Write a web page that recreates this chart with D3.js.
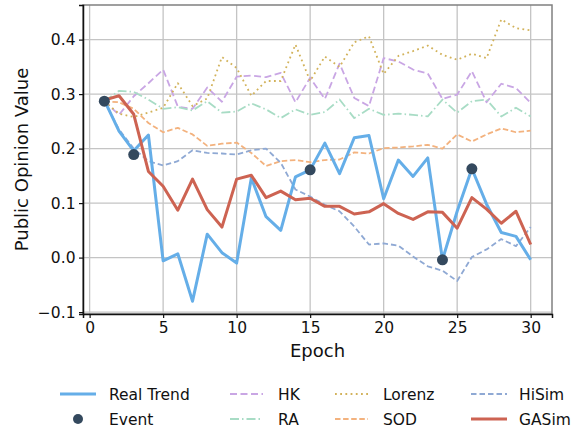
<!DOCTYPE html>
<html>
<head>
<meta charset="utf-8">
<script src="https://cdn.jsdelivr.net/npm/d3@7"></script>
<style>
  body { margin: 0; background: #fff; }
  text { font-family: "DejaVu Sans", sans-serif; }
</style>
</head>
<body>
<svg id="chart" width="585" height="430"></svg>
<script>

const epochs = [1,2,3,4,5,6,7,8,9,10,11,12,13,14,15,16,17,18,19,20,21,22,23,24,25,26,27,28,29,30]

const realTrend = [0.289, 0.232, 0.196, 0.225, -0.006, 0.007, -0.080, 0.043, 0.009, -0.010,
                   0.146, 0.075, 0.050, 0.148, 0.161, 0.210, 0.154, 0.220, 0.224, 0.108,
                   0.179, 0.149, 0.183, -0.004, 0.085, 0.163, 0.098, 0.046, 0.039, -0.004]

const eventEpochs = [1, 3, 15, 24, 26]
const eventValues = [0.287, 0.189, 0.161, -0.004, 0.163]

const hk = [0.287, 0.262, 0.296, 0.320, 0.345, 0.277, 0.273, 0.312, 0.286, 0.332,
            0.334, 0.331, 0.339, 0.285, 0.330, 0.291, 0.356, 0.293, 0.278, 0.366,
            0.360, 0.345, 0.338, 0.291, 0.299, 0.342, 0.285, 0.319, 0.311, 0.284]

const ra = [0.287, 0.306, 0.304, 0.290, 0.273, 0.276, 0.270, 0.287, 0.266, 0.268,
            0.283, 0.272, 0.256, 0.272, 0.262, 0.267, 0.290, 0.256, 0.273, 0.262,
            0.264, 0.262, 0.259, 0.290, 0.266, 0.287, 0.290, 0.259, 0.275, 0.259]

const lorenz = [0.287, 0.264, 0.258, 0.266, 0.275, 0.320, 0.278, 0.292, 0.368, 0.348,
                0.297, 0.324, 0.324, 0.391, 0.324, 0.369, 0.350, 0.395, 0.406, 0.337,
                0.370, 0.379, 0.389, 0.372, 0.363, 0.374, 0.366, 0.437, 0.421, 0.417]

const sod = [0.287, 0.285, 0.273, 0.247, 0.230, 0.238, 0.226, 0.205, 0.209, 0.211,
             0.192, 0.168, 0.177, 0.179, 0.175, 0.179, 0.180, 0.193, 0.191, 0.201,
             0.202, 0.204, 0.207, 0.200, 0.226, 0.213, 0.226, 0.237, 0.230, 0.233]

const hisim = [0.287, 0.235, 0.200, 0.177, 0.169, 0.177, 0.197, 0.192, 0.191, 0.189,
               0.197, 0.200, 0.174, 0.125, 0.112, 0.097, 0.085, 0.057, 0.024, 0.026,
               0.022, 0.002, -0.016, -0.024, -0.043, 0.001, 0.015, 0.034, 0.021, 0.056]

const gasim = [0.289, 0.297, 0.263, 0.158, 0.131, 0.087, 0.144, 0.088, 0.056, 0.144,
               0.151, 0.110, 0.122, 0.106, 0.109, 0.094, 0.094, 0.080, 0.084, 0.099,
               0.081, 0.070, 0.084, 0.083, 0.054, 0.110, 0.089, 0.063, 0.085, 0.024]

const xTicks = [0, 5, 10, 15, 20, 25, 30]
const yTicks = [-0.1, 0.0, 0.1, 0.2, 0.3, 0.4]

// baselines first, then real trend, GASim and events on top
const series = [
  { name: "HK",     values: hk,     color: "#c9a6e4", width: 1.8, dash: "7,3.5" },
  { name: "RA",     values: ra,     color: "#a8dcc5", width: 1.8, dash: "9,3,1.5,3" },
  { name: "Lorenz", values: lorenz, color: "#d2b25a", width: 1.8, dash: "1.8,3.4" },
  { name: "SOD",    values: sod,    color: "#f3b27e", width: 1.8, dash: "5.5,2.6" },
  { name: "HiSim",  values: hisim,  color: "#8fa9d4", width: 1.8, dash: "5.5,3" },
  { name: "Real Trend", values: realTrend, color: "#65aee8", width: 3, dash: null },
  { name: "GASim",  values: gasim,  color: "#cd6352", width: 3, dash: null }
]

const margin = { left: 83, right: 33, top: 5, bottom: 116 }
const width = 585, height = 430

const svg = d3.select("#chart")

const x = d3.scaleLinear()
            .domain([-0.45, 31.45])
            .range([margin.left, width - margin.right])

const y = d3.scaleLinear()
            .domain([-0.1035, 0.4635])
            .range([height - margin.bottom, margin.top])

// grid
svg.append("g")
   .selectAll("line")
   .data(xTicks)
   .join("line")
   .attr("x1", d => x(d)).attr("x2", d => x(d))
   .attr("y1", y.range()[0]).attr("y2", y.range()[1])
   .attr("stroke", "#c4c4c4")
   .attr("stroke-width", 1.3)

svg.append("g")
   .selectAll("line")
   .data(yTicks)
   .join("line")
   .attr("x1", x.range()[0]).attr("x2", x.range()[1])
   .attr("y1", d => y(d)).attr("y2", d => y(d))
   .attr("stroke", "#c4c4c4")
   .attr("stroke-width", 1.3)

// lines
const line = d3.line()
               .x((d, i) => x(epochs[i]))
               .y(d => y(d))

series.forEach(s => {
  svg.append("path")
     .datum(s.values)
     .attr("d", line)
     .attr("fill", "none")
     .attr("stroke", s.color)
     .attr("stroke-width", s.width)
     .attr("stroke-dasharray", s.dash)
     .attr("stroke-linejoin", "round")
})

svg.append("g")
   .selectAll("circle")
   .data(eventValues)
   .join("circle")
   .attr("cx", (d, i) => x(eventEpochs[i]))
   .attr("cy", d => y(d))
   .attr("r", 5.5)
   .attr("fill", "#34495e")

// spines
svg.append("rect")
   .attr("x", x.range()[0]).attr("y", y.range()[1])
   .attr("width", x.range()[1] - x.range()[0])
   .attr("height", y.range()[0] - y.range()[1])
   .attr("fill", "none")
   .attr("stroke", "#808080")
   .attr("stroke-width", 1.5)

// axes
const xAxis = svg.append("g")
   .attr("transform", "translate(0," + y.range()[0] + ")")
   .call(d3.axisBottom(x).tickValues(xTicks).tickSize(4).tickPadding(3.5).tickFormat(d3.format("d")))

const yAxis = svg.append("g")
   .attr("transform", "translate(" + x.range()[0] + ",0)")
   .call(d3.axisLeft(y).tickValues(yTicks).tickSize(4).tickPadding(3.5)
           .tickFormat(d => d === 0 ? "0.0" : d3.format(".1f")(d).replace("-", "\u2212")))

svg.selectAll(".domain").attr("stroke", "#111").attr("stroke-width", 1.5)
svg.selectAll(".tick line").attr("stroke", "#111").attr("stroke-width", 1.2)
svg.selectAll(".tick text")
   .attr("font-family", "DejaVu Sans")
   .attr("font-size", 15.5)
   .attr("fill", "#111")

// axis labels
svg.append("text")
   .attr("x", (x.range()[0] + x.range()[1]) / 2)
   .attr("y", 357)
   .attr("text-anchor", "middle")
   .attr("font-size", 18)
   .attr("fill", "#111")
   .text("Epoch")

svg.append("text")
   .attr("transform", "translate(28," + ((y.range()[0] + y.range()[1]) / 2) + ") rotate(-90)")
   .attr("text-anchor", "middle")
   .attr("font-size", 18)
   .attr("fill", "#111")
   .text("Public Opinion Value")

// legend, column by column
const legendItems = [
  { name: "Real Trend", col: 0, row: 0 },
  { name: "Event",      col: 0, row: 1 },
  { name: "HK",         col: 1, row: 0 },
  { name: "RA",         col: 1, row: 1 },
  { name: "Lorenz",     col: 2, row: 0 },
  { name: "SOD",        col: 2, row: 1 },
  { name: "HiSim",      col: 3, row: 0 },
  { name: "GASim",      col: 3, row: 1 }
]
const colX = [60, 230, 335, 471]
const rowY = [394, 419]

legendItems.forEach(it => {
  let g = svg.append("g")
             .attr("transform", "translate(" + colX[it.col] + "," + rowY[it.row] + ")")
  if (it.name == "Event") {
    g.append("circle").attr("cx", 18).attr("cy", 0).attr("r", 5).attr("fill", "#34495e")
  } else {
    let s = series.find(d => d.name == it.name)
    g.append("line")
     .attr("x1", 0).attr("x2", it.col == 0 || it.col == 3 ? 36 : 33)
     .attr("y1", 0).attr("y2", 0)
     .attr("stroke", s.color)
     .attr("stroke-width", s.width)
     .attr("stroke-dasharray", s.dash)
  }
  g.append("text")
   .attr("x", it.col == 0 ? 49 : 48)
   .attr("y", 0)
   .attr("dy", "0.36em")
   .attr("font-size", 15.5)
   .attr("fill", "#111")
   .text(it.name)
})

</script>
</body>
</html>
